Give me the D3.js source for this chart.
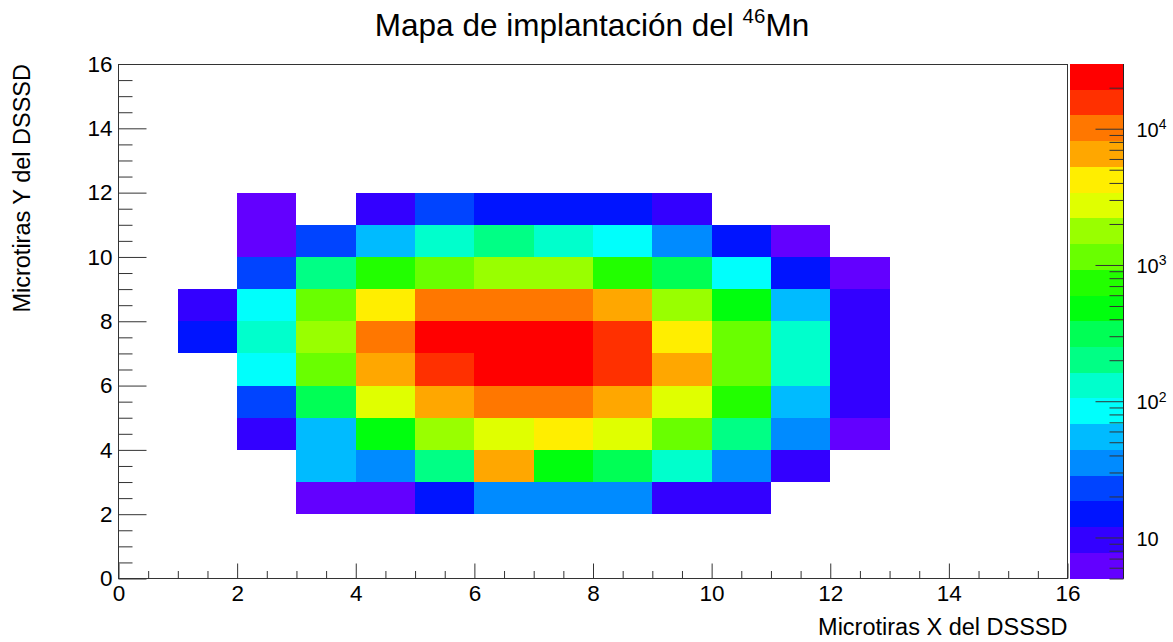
<!DOCTYPE html>
<html>
<head>
<meta charset="utf-8">
<script src="https://cdn.jsdelivr.net/npm/d3@7"></script>
<style>
  html, body { margin: 0; padding: 0; background: #fff; }
  svg { display: block; font-family: "Liberation Sans", Arial, Helvetica, sans-serif; }
</style>
</head>
<body>
<svg id="chart" width="1173" height="642"></svg>
<script>
// X strip lower edges covered by the count rows below
const xStrips = [1, 2, 3, 4, 5, 6, 7, 8, 9, 10, 11, 12];
// Y strip lower edge for each row of counts
const yStrips = [11, 10, 9, 8, 7, 6, 5, 4, 3, 2];

// Implantation counts per Y strip (one entry per X strip, 0 = empty bin)
const countsY11 = [0, 6, 0, 9, 23, 15, 14, 16, 10, 0, 0, 0];
const countsY10 = [0, 7, 21, 52, 128, 205, 136, 88, 36, 13, 6, 0];
const countsY9  = [0, 24, 194, 760, 1180, 1720, 1810, 712, 318, 81, 15, 5];
const countsY8  = [9, 86, 1090, 4310, 9870, 10400, 10250, 6380, 1690, 495, 57, 10];
const countsY7  = [14, 124, 1840, 9640, 23100, 29850, 27400, 15900, 4150, 1210, 133, 9];
const countsY6  = [0, 80, 1120, 6700, 15200, 26100, 24700, 16300, 6260, 1170, 127, 10];
const countsY5  = [0, 22, 305, 2680, 6590, 10600, 9920, 6840, 2790, 726, 53, 9];
const countsY4  = [0, 10, 56, 470, 1750, 2840, 4260, 2650, 1130, 198, 34, 6];
const countsY3  = [0, 0, 51, 37, 207, 6420, 488, 302, 131, 35, 9, 0];
const countsY2  = [0, 0, 6, 5, 15, 33, 36, 34, 9, 10, 0, 0];

// Rainbow palette, 20 contour levels from lowest to highest
const paletteColors = [
  "#6300FF", "#3300FF", "#0014FF", "#0044FF", "#008BFF",
  "#00BBFF", "#00FFFC", "#00FFCC", "#00FF85", "#00FF55",
  "#00FF0E", "#22FF00", "#69FF00", "#99FF00", "#E0FF00",
  "#FFEE00", "#FFA700", "#FF7700", "#FF3000", "#FF0000"
];

// Axis ticks and labels
const axisDomain = [0, 16];
const majorTicks = [0, 2, 4, 6, 8, 10, 12, 14, 16];
const zMajorTicks = [10, 100, 1000, 10000];
const zMajorExponents = ["", "2", "3", "4"];

const titleMain = "Mapa de implantación del ";
const titleSup = "46";
const titleTail = "Mn";
const xTitle = "Microtiras X del DSSSD";
const yTitle = "Microtiras Y del DSSSD";

// ---- layout ----
const frame = { left: 118.5, right: 1067.5, top: 64, bottom: 578.5 };
const pal = { left: 1070, right: 1123.5 };

const svg = d3.select("#chart");

const rows = [countsY11, countsY10, countsY9, countsY8, countsY7,
              countsY6, countsY5, countsY4, countsY3, countsY2];
const cells = [];
rows.forEach((row, ri) => {
  row.forEach((v, ci) => {
    if (v > 0) cells.push({ x: xStrips[ci], y: yStrips[ri], v });
  });
});

const zMin = d3.min(cells, d => d.v);
const zMax = d3.max(cells, d => d.v);
const lMin = Math.log10(zMin), lMax = Math.log10(zMax);
const nLevels = paletteColors.length;

const x = d3.scaleLinear().domain(axisDomain).range([frame.left, frame.right]);
const y = d3.scaleLinear().domain(axisDomain).range([frame.bottom, frame.top]);
const z = d3.scaleLog().domain([zMin, zMax]).range([frame.bottom, frame.top]);
const color = d3.scaleQuantize().domain([lMin, lMax]).range(paletteColors);

// ---- cells ----
svg.append("g")
  .attr("shape-rendering", "crispEdges")
  .selectAll("rect")
  .data(cells)
  .join("rect")
  .attr("x", d => x(d.x))
  .attr("y", d => y(d.y + 1))
  .attr("width", d => x(d.x + 1) - x(d.x))
  .attr("height", d => y(d.y) - y(d.y + 1))
  .attr("fill", d => color(Math.log10(d.v)));

// ---- frame ----
svg.append("rect")
  .attr("x", frame.left).attr("y", frame.top + 0.5)
  .attr("width", frame.right - frame.left)
  .attr("height", frame.bottom - frame.top - 0.5)
  .attr("fill", "none").attr("stroke", "#333").attr("stroke-width", 1);

// ---- axes ----
const minorTicks = d3.range(axisDomain[0], axisDomain[1] + 0.01, 0.5)
  .filter(v => !majorTicks.includes(v));

function styleAxis(g, fontSize) {
  g.select(".domain").remove();
  g.selectAll("line").attr("stroke", "#333");
  g.selectAll("text")
    .attr("font-family", "'Liberation Sans', Arial, sans-serif")
    .attr("font-size", fontSize)
    .attr("fill", "#000");
}

svg.append("g")
  .attr("transform", `translate(0,${frame.bottom})`)
  .call(d3.axisBottom(x).tickValues(minorTicks).tickSize(-7.5).tickFormat(""))
  .call(g => styleAxis(g, 0));
svg.append("g")
  .attr("transform", `translate(0,${frame.bottom})`)
  .call(d3.axisBottom(x).tickValues(majorTicks).tickSize(-15).tickPadding(7).tickFormat(d3.format("d")))
  .call(g => styleAxis(g, 22.5));

svg.append("g")
  .attr("transform", `translate(${frame.left},0)`)
  .call(d3.axisLeft(y).tickValues(minorTicks).tickSize(-14).tickFormat(""))
  .call(g => styleAxis(g, 0));
svg.append("g")
  .attr("transform", `translate(${frame.left},0)`)
  .call(d3.axisLeft(y).tickValues(majorTicks).tickSize(-28).tickPadding(6).tickFormat(d3.format("d")))
  .call(g => styleAxis(g, 22.5));

// ---- palette ----
const bands = d3.range(nLevels).map(j => ({
  lo: Math.pow(10, lMin + j * (lMax - lMin) / nLevels),
  hi: Math.pow(10, lMin + (j + 1) * (lMax - lMin) / nLevels),
  c: paletteColors[j]
}));
svg.append("g")
  .attr("shape-rendering", "crispEdges")
  .selectAll("rect")
  .data(bands)
  .join("rect")
  .attr("x", pal.left)
  .attr("y", d => z(d.hi))
  .attr("width", pal.right - pal.left)
  .attr("height", d => z(d.lo) - z(d.hi))
  .attr("fill", d => d.c);

const zMinor = [];
[1, 10, 100, 1000, 10000].forEach(dec => {
  for (let m = 2; m <= 9; m++) {
    const v = m * dec;
    if (v >= zMin && v <= zMax) zMinor.push(v);
  }
});

svg.append("g")
  .attr("transform", `translate(${pal.right},0)`)
  .call(d3.axisRight(z).tickValues(zMinor).tickSize(-14).tickFormat(""))
  .call(g => styleAxis(g, 0));
const zAxisG = svg.append("g")
  .attr("transform", `translate(${pal.right},0)`)
  .call(d3.axisRight(z).tickValues(zMajorTicks).tickSize(-28).tickPadding(13).tickFormat(() => ""))
  .call(g => styleAxis(g, 20));
zAxisG.selectAll(".tick text").each(function (d, i) {
  const t = d3.select(this).attr("dy", "0.38em");
  t.append("tspan").text("10");
  if (zMajorExponents[i]) {
    t.append("tspan").attr("font-size", 14).attr("dy", "-0.55em").text(zMajorExponents[i]);
  }
});
svg.append("line")
  .attr("x1", pal.right).attr("x2", pal.right)
  .attr("y1", frame.top).attr("y2", frame.bottom)
  .attr("stroke", "#222").attr("stroke-width", 1);

// ---- titles ----
const title = svg.append("text")
  .attr("x", 592).attr("y", 36)
  .attr("text-anchor", "middle")
  .attr("font-size", 31.5)
  .attr("fill", "#000");
title.append("tspan").text(titleMain);
title.append("tspan").attr("font-size", 20.5).attr("dy", -13).text(titleSup);
title.append("tspan").attr("dy", 13).text(titleTail);

svg.append("text")
  .attr("x", frame.right).attr("y", 635)
  .attr("text-anchor", "end")
  .attr("font-size", 23.5)
  .attr("fill", "#000")
  .text(xTitle);

svg.append("text")
  .attr("transform", `translate(30,${frame.top}) rotate(-90)`)
  .attr("text-anchor", "end")
  .attr("font-size", 23.5)
  .attr("fill", "#000")
  .text(yTitle);
</script>
</body>
</html>
